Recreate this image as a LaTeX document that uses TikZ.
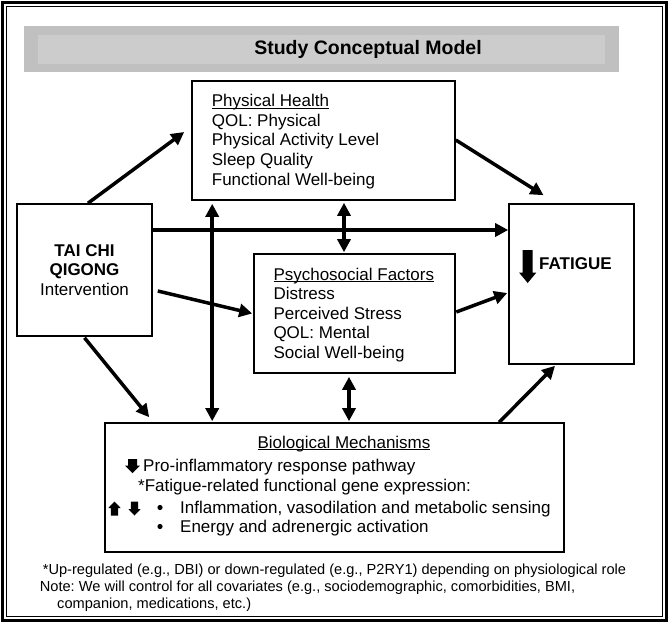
\documentclass[tikz,border=0pt]{standalone}
\usepackage{fontspec}
\setmainfont{Liberation Sans}
\usetikzlibrary{arrows.meta}
\frenchspacing
\newcommand\myul[1]{\setbox0\hbox{#1}\rlap{\rule[-1.8pt]{\wd0}{1.1pt}}\box0}
\newcommand\blkarrow[6]{\fill (#1-#5,#2) -- (#1+#5,#2) -- (#1+#5,#4) -- (#1+#6,#4) -- (#1,#3) -- (#1-#6,#4) -- (#1-#5,#4) -- cycle;}
\definecolor{bandout}{RGB}{192,192,192}
\definecolor{bandin}{RGB}{204,204,204}
\tikzset{
  box/.style={draw, line width=1.6pt, inner sep=0pt, fill=white},
  txt/.style={anchor=base west, inner sep=0pt, font=\fontsize{17}{19}\selectfont},
  ctxt/.style={anchor=base, inner sep=0pt, font=\fontsize{17}{19}\selectfont},
  btxt/.style={anchor=base, inner sep=0pt, font=\bfseries\fontsize{17}{19}\selectfont},
  note/.style={anchor=base west, inner sep=0pt, font=\fontsize{14.6}{17}\selectfont},
  arr/.style={line width=3.5pt, -{Triangle[length=13pt,width=13pt]}},
  darr/.style={line width=3.5pt, {Triangle[length=13pt,width=13pt]}-{Triangle[length=13pt,width=13pt]}},
}
\begin{document}
\begin{tikzpicture}[x=1pt,y=-1pt]
\useasboundingbox (0,0) rectangle (669,623);
\fill[white] (0,0) rectangle (669,623);
% outer frame
\draw[line width=3pt] (2.5,2.5) rectangle (666.5,620.5);
\draw[line width=1.5pt] (6.5,6.5) rectangle (662.5,616.5);
% title band
\fill[bandout] (24,26) rectangle (619,72);
\fill[bandin] (38,35) rectangle (605,64);
\node[anchor=base, inner sep=0pt, font=\bfseries\fontsize{19.5}{20}\selectfont] (title) at (368,54.3) {Study Conceptual Model};
% boxes
\node[box, minimum width=263pt, minimum height=119pt] (ph) at (323.5,140.5) {};
\node[box, minimum width=135pt, minimum height=132pt] (tc) at (84.5,270) {};
\node[box, minimum width=125pt, minimum height=160pt] (fa) at (571.5,284) {};
\node[box, minimum width=201pt, minimum height=119pt] (ps) at (354.5,313.5) {};
\node[box, minimum width=459pt, minimum height=129pt] (bio) at (334.5,487.5) {};
% physical health text
\node[txt] (ph1) at (211.7,107) {\myul{Physical Health}};
\node[txt] (ph2) at (211.7,126.5) {QOL: Physical};
\node[txt] (ph3) at (211.7,146) {Physical Activity Level};
\node[txt] (ph4) at (211.7,165.5) {Sleep Quality};
\node[txt] (ph5) at (211.7,185) {Functional Well-being};
% tai chi text
\node[btxt] (tc1) at (84.5,256) {TAI CHI};
\node[btxt] (tc2) at (84.5,275.5) {QIGONG};
\node[ctxt] (tc3) at (84.5,295) {Intervention};
% fatigue
\blkarrow{527.7}{250}{283}{272.5}{5}{8.7}
\node[anchor=base west, inner sep=0pt, font=\bfseries\fontsize{17}{19}\selectfont] (fa1) at (539,269.5) {FATIGUE};
% psychosocial text
\node[txt] (ps1) at (273.3,280) {\myul{Psychosocial Factors}};
\node[txt] (ps2) at (273.3,299.5) {Distress};
\node[txt] (ps3) at (273.3,319) {Perceived Stress};
\node[txt] (ps4) at (273.3,338.5) {QOL: Mental};
\node[txt] (ps5) at (273.3,358) {Social Well-being};
% biological text
\node[ctxt] (bio1) at (344,448) {\myul{Biological Mechanisms}};
\blkarrow{132.5}{459}{473}{465.5}{4.5}{7.5}
\node[txt] (bio2) at (143,471.5) {Pro-inflammatory response pathway};
\node[txt] (bio3) at (138,491.5) {*Fatigue-related functional gene expression:};
\blkarrow{114.5}{515.5}{501.5}{508}{3.7}{6.2}
\blkarrow{134.5}{501.5}{515.5}{509}{3.7}{6.2}
\fill (160,507.5) circle (2.6);
\node[txt] (bio4) at (180,513) {Inflammation, vasodilation and metabolic sensing};
\fill (160,526.5) circle (2.6);
\node[txt] (bio5) at (180,532) {Energy and adrenergic activation};
% notes
\node[note] (n1) at (42.7,574) {*Up-regulated (e.g., DBI) or down-regulated (e.g., P2RY1) depending on physiological role};
\node[note] (n2) at (39.7,591) {Note: We will control for all covariates (e.g., sociodemographic, comorbidities, BMI,};
\node[note] (n3) at (57,608) {companion, medications, etc.)};
% connectors
\draw[arr] ([xshift=3.5pt]tc.north) -- ([xshift=-7pt,yshift=8.5pt]ph.west);
\draw[arr] ([yshift=40pt]tc.east) -- ([yshift=54pt]fa.west);
\draw[arr] ([xshift=5pt,yshift=-21pt]tc.east) -- ([xshift=-1pt]ps.west);
\draw[arr] ([yshift=-1pt]tc.south) -- ([xshift=45pt,yshift=5pt]bio.north west);
\draw[darr] ([xshift=21pt,yshift=-3pt]ph.south west) -- ([xshift=108pt,yshift=1pt]bio.north west);
\draw[darr] ([xshift=20.5pt,yshift=-2pt]ph.south) -- ([xshift=-10.5pt,yshift=1pt]ps.north);
\draw[darr] ([xshift=-5.5pt,yshift=-3pt]ps.south) -- ([xshift=14.5pt,yshift=1pt]bio.north);
\draw[arr] ([yshift=0.5pt]ph.east) -- ([xshift=-28pt,yshift=8pt]fa.north);
\draw[arr] ([xshift=0.5pt,yshift=1.5pt]ps.east) -- ([xshift=-1pt,yshift=-9pt]fa.west);
\draw[arr] ([xshift=395pt]bio.north west) -- ([xshift=-16.5pt,yshift=-1pt]fa.south);
\end{tikzpicture}
\end{document}
